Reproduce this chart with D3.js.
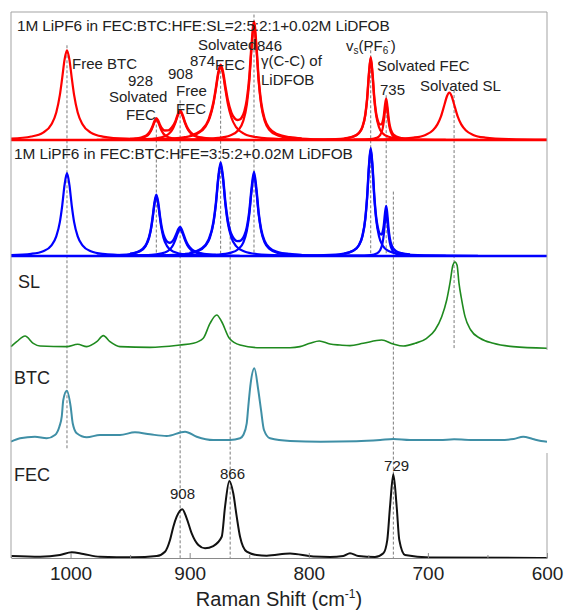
<!DOCTYPE html>
<html>
<head>
<meta charset="utf-8">
<script src="https://cdn.jsdelivr.net/npm/d3@7"></script>
<style>
  body { margin: 0; background: #fff; }
  svg text { font-family: "Liberation Sans", Arial, sans-serif; fill: #222; }
</style>
</head>
<body>
<div id="chart"></div>
<script>
// Raman spectra, [wavenumber cm-1, intensity a.u.]

// top: 1M LiPF6 in FEC:BTC:HFE:SL + LiDFOB, fitted bands
var redBands = [
  [[1050,1.1],[1033,2.7],[1023,5.8],[1016,12.3],[1012,21.5],[1009,35],[1007,48.5],[1005,63],[1003,70],[1001,63],[999,48.5],[997,35],[994,21.5],[990,12.3],[983,5.8],[973,2.7],[953,1.0],[903,0.25]],
  [[978,0.1],[953,0.4],[942,1.25],[937,2.6],[934,4.9],[932,8],[930,12.8],[928,16],[926,12.8],[924,8],[922,4.9],[919,2.6],[914,1.25],[903,0.4],[878,0.1]],
  [[958,0.2],[938,0.6],[928,1.3],[921,2.9],[917,5.2],[914,9],[912,13.4],[910,18.9],[908,22],[906,18.9],[904,13.4],[902,9],[899,5.2],[895,2.9],[888,1.3],[878,0.6],[858,0.2]],
  [[974,0.2],[924,0.8],[904,2.2],[894,4.7],[887,10],[883,17.6],[880,28.5],[878,39.4],[876,51.3],[874,57],[872,51.3],[870,39.4],[868,28.5],[865,17.6],[861,10],[854,4.7],[844,2.2],[824,0.8],[774,0.2]],
  [[946,0.14],[896,0.58],[876,1.6],[866,3.5],[859,7.8],[855,14.9],[852,27.7],[850,45],[848,72],[846,90],[844,72],[842,45],[840,27.7],[837,14.9],[833,7.8],[826,3.5],[816,1.6],[796,0.58],[746,0.14]],
  [[838,0.07],[793,0.28],[773,0.9],[763,2.5],[758,5.3],[755,9.9],[752.5,19.7],[751,32],[749.5,51.2],[748,64],[746.5,51.2],[745,32],[743.5,19.7],[741,9.9],[738,5.3],[733,2.5],[723,0.9],[703,0.28],[658,0.07]],
  [[785,0.05],[760,0.18],[748,0.67],[743,1.7],[740,4.0],[738,8.9],[737,14.5],[736,23.2],[735,29],[734,23.2],[733,14.5],[732,8.9],[730,4.0],[727,1.7],[722,0.67],[710,0.18],[685,0.05]],
  [[762,0.28],[732,0.71],[712,1.9],[702,4.0],[696,7.4],[692,12.2],[689,18.5],[686,27.9],[684,34.2],[682,37],[680,34.2],[678,27.9],[675,18.5],[672,12.2],[668,7.4],[662,4.0],[652,1.9],[632,0.71],[600,0.27]]
];
// envelopes where bands overlap
var redFits = [
  [[950,0.8],[945,1.2],[940,2.1],[936,3.8],[933,7.1],[931,11.1],[929.5,14.8],[928,17],[926.5,15.3],[925,11.9],[923,8.7],[921,7.4],[918,7.5],[915,9.8],[912,14.5],[910,20],[908,23],[906,19.8],[904,14.2],[901,8.1],[897,4.1],[893,2.5],[888,1.6],[878,0.7],[858,0.3]],
  [[900,3.4],[890,7.7],[884,16.1],[880,29.7],[878,40.7],[876,52.8],[874,58.8],[872,53.4],[870,41.8],[868,31.4],[865,21.4],[862,16.7],[860,15.6],[858,16],[856,18.1],[854,22.7],[852,31.7],[850,48.4],[848,74.9],[846,92.5],[844,74.2],[842,47],[840,29.5],[837,16.4],[833,9],[826,4.4],[816,2.2],[806,1.3]],
  [[770,1.26],[763,2.65],[758,5.5],[755,10.2],[752.5,20.1],[751,32.5],[749.5,51.7],[748,64.7],[746.5,52],[745,33.1],[743.5,21.2],[742,15],[740.5,12.2],[739,12.2],[738,14.2],[737,18.9],[736,27],[735,32.2],[734,26],[733,17],[732,11.1],[730,5.7],[727,3.0],[722,1.5],[715,0.73]]
];

// 1M LiPF6 in FEC:BTC:HFE + LiDFOB
var blueBands = [
  [[1050,0.8],[1033,1.9],[1023,4.2],[1016,9.3],[1012,17],[1009,29.5],[1007,43.9],[1005,62.1],[1003,72],[1001,62.1],[999,43.9],[997,29.5],[994,17],[990,9.3],[983,4.2],[973,1.9],[953,0.71],[903,0.18]],
  [[978,0.33],[953,1.3],[942,3.9],[937,8.6],[934,16],[932,26],[930,41.6],[928,52],[926,41.6],[924,26],[922,16],[919,8.6],[914,3.9],[903,1.3],[878,0.33]],
  [[958,0.23],[938,0.62],[928,1.4],[921,3.0],[917,5.4],[914,9.4],[912,14],[910,19.8],[908,23],[906,19.8],[904,14],[902,9.4],[899,5.4],[895,3.0],[888,1.4],[878,0.62],[858,0.23]],
  [[974,0.16],[924,0.64],[904,1.76],[894,3.9],[887,8.6],[883,16],[880,28.8],[878,44.7],[876,66.8],[874,80],[872,66.8],[870,44.7],[868,28.8],[865,16],[861,8.6],[854,3.9],[844,1.76],[824,0.64],[774,0.16]],
  [[946,0.11],[896,0.45],[876,1.24],[866,2.7],[859,6.1],[855,11.7],[852,21.9],[850,35.5],[848,56.8],[846,71],[844,56.8],[842,35.5],[840,21.9],[837,11.7],[833,6.1],[826,2.7],[816,1.24],[796,0.45],[746,0.11]],
  [[838,0.13],[793,0.5],[773,1.6],[763,4.3],[758,9.1],[755,16.9],[752.5,32.5],[751,50.9],[749.5,77.1],[748,93],[746.5,77.1],[745,50.9],[743.5,32.5],[741,16.9],[738,9.1],[733,4.3],[723,1.6],[703,0.5],[658,0.13]],
  [[785,0.06],[760,0.24],[748,0.87],[743,2.2],[740,5.2],[738,11.7],[737,19],[736,30.4],[735,38],[734,30.4],[733,19],[732,11.7],[730,5.2],[727,2.2],[722,0.87],[710,0.24],[685,0.06]]
];
var blueFits = [
  [[950,2.0],[945,3.15],[940,5.75],[936,11.1],[933,21.2],[931,34.3],[929.5,46.7],[928,53.4],[926.5,47.2],[925,35.1],[923,22.6],[921,15.8],[919,12.5],[917,11.5],[915,12.3],[913,15],[911,19.6],[909.5,23.5],[908,25.3],[906.5,22.7],[905,18.4],[903,12.8],[901,8.9],[898,5.5],[894,3.3],[888,1.85],[878,0.95]],
  [[900,2.7],[890,6.5],[884,14.3],[880,29.8],[878,45.8],[876,68],[874,81.4],[872,68.5],[870,46.6],[868,31.1],[866,21.9],[864,16.8],[862,14.1],[860,12.9],[858,13],[856,14.5],[854,18.1],[852,25.1],[850,38.2],[848,59.1],[846,73],[844,58.6],[842,37.1],[840,23.3],[837,12.9],[833,7.1],[826,3.45],[816,1.7],[806,1.0]],
  [[770,2.2],[763,4.5],[758,9.4],[755,17.3],[752.5,33],[751,51.5],[749.5,77.8],[748,93.9],[746.5,78.2],[745,52.4],[743.5,34.5],[742,24.5],[740.5,19.5],[739,18.6],[738,20.8],[737,26.7],[736,36.9],[735,43.6],[734,35.3],[733,23.3],[732,15.5],[730,8.2],[727,4.4],[722,2.4],[715,1.3]]
];

// neat solvents
var slSpec = [[1050,1.5],[1045.2,7],[1038.2,13.3],[1031.3,5.2],[1025.6,2.2],[1003.2,1.5],[994,4.1],[986.4,1.5],[978,7],[972.5,13.7],[966.9,7],[958.5,1.5],[933.3,0.7],[908.1,3.3],[896.9,5.2],[888.6,10.8],[882.9,27.4],[877.3,36.7],[873.1,29.2],[866.7,10.8],[857.7,3.3],[840.9,0.3],[815.7,0.3],[807.4,1.5],[799,5.2],[791.2,7.8],[782.2,4.4],[773.8,3.3],[765.4,2.6],[754.2,5.2],[738.8,8.9],[729,4.4],[720.6,2.2],[710.8,5.2],[701,10.8],[694,20],[688.4,34.8],[684.2,53.3],[681.4,72.6],[679,92],[677.2,95.6],[675.5,92],[673.9,72],[671.6,53.3],[668.8,34.8],[664,20],[656.2,10.8],[645.1,5.2],[628.5,1.5],[600,-0.3]];
var btcSpec = [[1050,0.4],[1042.4,4.8],[1029.9,6.9],[1020,4.8],[1013.1,9.1],[1009.4,19.9],[1007.4,32.9],[1006.1,54.5],[1003.2,66.6],[999.9,45.8],[998.2,24.3],[994.8,11.3],[986.4,6.1],[975.3,9.1],[958.5,9.1],[945.9,12.6],[933.3,10],[919.3,7.8],[903.9,13.4],[894.1,6.9],[880.2,2.6],[866.1,2.6],[857.7,4.8],[855,9.1],[852.1,24.3],[850.8,45.8],[848.8,76.2],[845.7,95.7],[842.4,67.5],[840.1,41.6],[837.6,15.6],[832.5,4.8],[815.7,1.3],[790,0.4],[760,1],[740,2.6],[729,3.9],[715,2.6],[690,2.6],[678,3.5],[660,2.6],[640,2.6],[628,3.9],[620,6.9],[612,3.9],[605,1.3],[600,0.4]];
var fecSpec = [[1050,1.1],[1025.6,0.3],[1008.9,2.3],[999,5.4],[989.3,3.4],[975.3,0.3],[947.3,-0.3],[927.7,1.1],[920.7,6.1],[916.5,19.5],[913.7,34.8],[910.9,46.3],[906.2,55],[902.5,44.5],[898.3,27.2],[892.7,13.8],[887.1,10],[880.2,12.6],[873.1,23.3],[870.3,57.8],[866.7,87.4],[863.4,73.2],[860.5,46.3],[857.7,23.3],[852.1,6.1],[843.7,2.3],[835.3,1.5],[815.7,4],[796.2,0.5],[782.2,0],[771,1.1],[765.4,4.3],[758.4,1.1],[744.4,0],[737.4,4.3],[734.1,19.5],[731.8,57.8],[729,95.1],[726.2,57.8],[724,19.5],[719.2,2.3],[698.2,-0.6],[600,-1.1]];

// dashed guides: [wavenumber, from panel, from value, to panel, to value]
var guides = [
  [1003, "red", 74, "btc", -10],
  [928, "red", 16, "blue", 0],
  [908, "red", 31, "fec", -1],
  [874, "red", 58, "blue", 0],
  [866, "blue", 56, "fec", -1],
  [846, "red", 98, "blue", 0],
  [748, "red", 74, "blue", 0],
  [735, "red", 35, "blue", 0],
  [729, "blue", 56, "fec", -1],
  [678, "red", 39, "sl", -1]
];

// annotations: [text, wavenumber at left edge, panel, value at baseline]
var notes = [
  ["Free BTC", 998.8, "red", 55.5],
  ["928", 951.8, "red", 42.2],
  ["Solvated", 967.7, "red", 29.3],
  ["FEC", 953.5, "red", 16.0],
  ["908", 918.2, "red", 47.3],
  ["Free", 911.5, "red", 34.6],
  ["FEC", 911.5, "red", 20.4],
  ["Solvated", 893, "red", 70.3],
  ["874", 899.7, "red", 57.8],
  ["FEC", 878.7, "red", 54.7],
  ["846", 843.5, "red", 69.5],
  ["γ(C-C) of", 840.1, "red", 57.8],
  ["LiDFOB", 840.1, "red", 43],
  ["Solvated FEC", 742.7, "red", 54.0],
  ["735", 740.2, "red", 35.2],
  ["Solvated SL", 706.6, "red", 38.3],
  ["908", 916.5, "fec", 66.7],
  ["866", 874.5, "fec", 89.7],
  ["729", 736.8, "fec", 98.9]
];
// panel headers: [text, wavenumber at left edge, panel, value at baseline, wavenumber at right edge]
var headers = [
  ["1M LiPF6 in FEC:BTC:HFE:SL=2:5:2:1+0.02M LiDFOB", 1045, "red", 85.2, 732],
  ["1M LiPF6 in FEC:BTC:HFE=3:5:2+0.02M LiDFOB", 1047.5, "blue", 84.3, 763]
];
var names = [["SL", 1044.1, "sl", 66.7], ["BTC", 1047.5, "btc", 75.3], ["FEC", 1047.5, "fec", 87.4]];

var xTicks = [1000, 900, 800, 700, 600];
var xMinor = [1050, 950, 850, 750, 650];

var width = 567, height = 613;
var svg = d3.select("#chart").append("svg").attr("width", width).attr("height", height);

var x = d3.scaleLinear().domain([1050, 600]).range([11, 547]);

// one y scale per stacked spectrum
var panels = {
  red: d3.scaleLinear().domain([0, 100]).range([140, 12]),
  blue: d3.scaleLinear().domain([0, 100]).range([256, 141]),
  sl: d3.scaleLinear().domain([0, 100]).range([348, 258]),
  btc: d3.scaleLinear().domain([0, 100]).range([442, 365]),
  fec: d3.scaleLinear().domain([0, 100]).range([557, 470])
};

// guides go behind the traces
svg.append("g").selectAll("line").data(guides).enter().append("line")
  .attr("x1", function(d) { return x(d[0]); })
  .attr("x2", function(d) { return x(d[0]); })
  .attr("y1", function(d) { return panels[d[1]](d[2]); })
  .attr("y2", function(d) { return panels[d[3]](d[4]); })
  .attr("stroke", "#7a7a7a").attr("stroke-width", 1).attr("stroke-dasharray", "3,2");

function drawTrace(data, panel, color, w) {
  var y = panels[panel];
  var line = d3.line()
    .x(function(d) { return x(d[0]); })
    .y(function(d) { return y(d[1]); })
    .curve(d3.curveMonotoneX);
  var pts = data.slice().sort(function(a, b) { return b[0] - a[0]; });
  svg.append("path").datum(pts)
    .attr("d", line)
    .attr("fill", "none")
    .attr("stroke", color)
    .attr("stroke-width", w)
    .attr("stroke-linejoin", "round");
}

var red = "#ff0000", blue = "#0000ff";
drawTrace([[1050, 0], [600, 0]], "red", red, 2.6);
redBands.forEach(function(b) { drawTrace(b, "red", red, 2.2); });
redFits.forEach(function(b) { drawTrace(b, "red", red, 2.4); });

drawTrace([[1050, 0], [600, 0]], "blue", blue, 2.6);
blueBands.forEach(function(b) { drawTrace(b, "blue", blue, 2.2); });
blueFits.forEach(function(b) { drawTrace(b, "blue", blue, 2.4); });

drawTrace(slSpec, "sl", "#1f8a1f", 1.6);
drawTrace(btcSpec, "btc", "#3f8fa6", 2);
drawTrace(fecSpec, "fec", "#111111", 2);

// frame (the BTC strip has no right edge in the original)
var frame = svg.append("g").attr("stroke", "#a3a3a3").attr("stroke-width", 1).attr("fill", "none");
frame.append("line").attr("x1", 11).attr("x2", 11).attr("y1", 12).attr("y2", 558);
frame.append("line").attr("x1", 11).attr("x2", 547).attr("y1", 12).attr("y2", 12);
frame.append("line").attr("x1", 547).attr("x2", 547).attr("y1", 12).attr("y2", 350);
frame.append("line").attr("x1", 547).attr("x2", 547).attr("y1", 453).attr("y2", 558);

// x axis
var gx = svg.append("g").attr("transform", "translate(0,558)")
  .call(d3.axisBottom(x).tickValues(xTicks).tickSizeInner(-5).tickSizeOuter(0).tickPadding(9).tickFormat(d3.format("d")));
gx.select(".domain").attr("stroke", "#8a8a8a");
gx.selectAll(".tick line").attr("stroke", "#8a8a8a");
gx.selectAll("text").style("font-size", "19px").attr("fill", "#222");

var gm = svg.append("g").attr("transform", "translate(0,558)")
  .call(d3.axisBottom(x).tickValues(xMinor).tickSize(-3).tickFormat(""));
gm.select(".domain").remove();
gm.selectAll(".tick line").attr("stroke", "#8a8a8a");

var title = svg.append("text").attr("x", 279).attr("y", 606).attr("text-anchor", "middle").style("font-size", "20px");
title.append("tspan").text("Raman Shift (cm");
title.append("tspan").attr("dy", -8).style("font-size", "12px").text("-1");
title.append("tspan").attr("dy", 8).text(")");

// panel headers, stretched to the width they take in the figure
svg.append("g").selectAll("text").data(headers).enter().append("text")
  .attr("x", function(d) { return x(d[1]); })
  .attr("y", function(d) { return panels[d[2]](d[3]); })
  .attr("textLength", function(d) { return x(d[4]) - x(d[1]); })
  .attr("lengthAdjust", "spacing")
  .style("font-size", "15.4px")
  .text(function(d) { return d[0]; });

// peak labels
svg.append("g").selectAll("text").data(notes).enter().append("text")
  .attr("x", function(d) { return x(d[1]); })
  .attr("y", function(d) { return panels[d[2]](d[3]); })
  .style("font-size", "15px")
  .text(function(d) { return d[0]; });

svg.append("g").selectAll("text").data(names).enter().append("text")
  .attr("x", function(d) { return x(d[1]); })
  .attr("y", function(d) { return panels[d[2]](d[3]); })
  .style("font-size", "18px")
  .text(function(d) { return d[0]; });

// v_s(PF6-) label
var vs = svg.append("text").attr("x", x(768.7)).attr("y", panels.red(69.8)).style("font-size", "15px");
vs.append("tspan").text("v");
vs.append("tspan").attr("dy", 3).style("font-size", "10px").text("s");
vs.append("tspan").attr("dy", -3).text("(PF");
vs.append("tspan").attr("dy", 3).style("font-size", "10px").text("6");
vs.append("tspan").attr("dy", -10).attr("dx", -1).style("font-size", "10px").text("-");
vs.append("tspan").attr("dy", 7).text(")");
</script>
</body>
</html>
